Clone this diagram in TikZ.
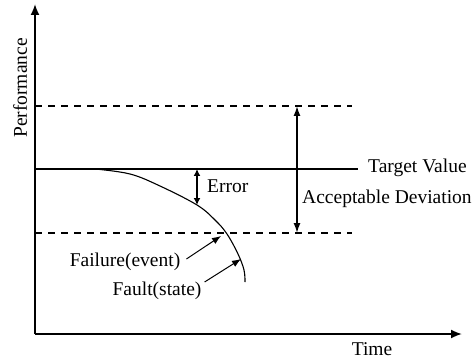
\documentclass[tikz,border=0pt]{standalone}
\usepackage{fontspec}
\setmainfont{Liberation Serif}
\usetikzlibrary{arrows.meta}
\begin{document}
\begin{tikzpicture}[x=1pt,y=-1pt,
  axis/.style={line width=1.8pt,-{Latex[length=11pt,width=9pt]}},
  thin line/.style={line width=1.5pt},
  dash line/.style={line width=1.4pt,dash pattern=on 7pt off 6pt},
  dbl/.style={line width=1.6pt,{Latex[length=10pt,width=7pt]}-{Latex[length=10pt,width=7pt]}},
  pointer/.style={line width=1pt,-{Latex[length=9pt,width=7pt]}},
  lbl/.style={font=\fontsize{19.5}{21}\selectfont,inner sep=0pt}]
\useasboundingbox (0,0) rectangle (476,358);
% axes
\coordinate (O) at (35,334);
\coordinate (ytop) at (35,4);
\coordinate (xend) at (462,334);
\draw[axis] (O) -- (ytop);
\draw[axis] (O) -- (xend);
\node[lbl,rotate=90] (perf) at (20,88) {Performance};
\node[lbl,anchor=base] (time) at (372,355) {Time};
% reference lines
\coordinate (ul) at (35,106); \coordinate (ur) at (352,106);
\coordinate (tl) at (35,169); \coordinate (tr) at (358,169);
\coordinate (ll) at (35,233); \coordinate (lr) at (352,233);
\draw[dash line] (ul) -- (ur);
\draw[thin line] (tl) -- (tr);
\draw[dash line] (ll) -- (lr);
\node[lbl,anchor=west] (target) at (368,168) {Target Value};
% acceptable deviation
\coordinate (adt) at (297,106); \coordinate (adb) at (297,233);
\draw[dbl] (adt) -- (adb);
\node[lbl,anchor=west] (acc) at (302,199) {Acceptable Deviation};
% curve
\draw[line width=1.1pt] plot[smooth,tension=0.6] coordinates {(95,169) (130,174) (160,186) (197,205) (215,220) (227,234) (238,254) (244,270) (245,282)};
% error
\coordinate (et) at (197,169); \coordinate (eb) at (197,205);
\draw[line width=1.6pt,{Latex[length=7pt,width=7pt]}-{Latex[length=7pt,width=7pt]}] (et) -- (eb);
\node[lbl,anchor=west] (err) at (207,186) {Error};
% failure and fault
\node[lbl] (fail) at (125,262) {Failure(event)};
\node[lbl] (fault) at (157,291) {Fault(state)};
\coordinate (failpt) at (221,236);
\coordinate (faultpt) at (241,259);
\draw[pointer] (fail.east) ++(6,-3) -- (failpt);
\draw[pointer] (fault.east) ++(3,-9) -- (faultpt);
\end{tikzpicture}
\end{document}
